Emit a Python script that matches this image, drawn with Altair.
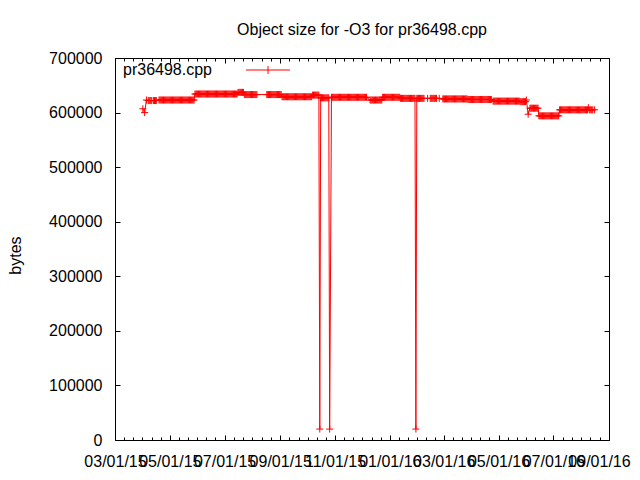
import json
import altair as alt
import pandas as pd

TITLE = "Object size for -O3 for pr36498.cpp"
SERIES = "pr36498.cpp"
Y_TITLE = "bytes"
FONT = "Liberation Sans"
RED = "#ff0000"

# Runs of (near) constant object size
RUN_START = ["2015-04-01", "2015-04-03", "2015-04-05", "2015-04-07", "2015-04-13",
             "2015-04-19", "2015-05-29", "2015-07-16", "2015-07-23", "2015-08-17",
             "2015-09-03", "2015-10-07", "2015-10-15", "2015-10-16", "2015-10-26",
             "2015-10-28", "2015-12-10", "2015-12-24", "2016-01-13", "2016-01-30",
             "2016-01-31", "2016-02-12", "2016-02-15", "2016-02-25", "2016-02-29",
             "2016-03-28", "2016-04-25", "2016-05-25", "2016-06-01", "2016-06-03",
             "2016-06-05", "2016-06-15", "2016-07-08", "2016-08-09", "2016-08-10",
             "2016-08-16"]
RUN_END = ["2015-04-01", "2015-04-03", "2015-04-05", "2015-04-11", "2015-04-16",
           "2015-05-28", "2015-07-15", "2015-07-22", "2015-08-06", "2015-09-02",
           "2015-10-06", "2015-10-14", "2015-10-15", "2015-10-25", "2015-10-26",
           "2015-12-06", "2015-12-23", "2016-01-12", "2016-01-29", "2016-01-30",
           "2016-02-08", "2016-02-12", "2016-02-22", "2016-02-25", "2016-03-27",
           "2016-04-23", "2016-05-24", "2016-05-31", "2016-06-01", "2016-06-03",
           "2016-06-14", "2016-07-07", "2016-08-08", "2016-08-09", "2016-08-14",
           "2016-08-16"]
RUN_VALUE = [607000, 600000, 623000, 622000, 622000,
             623000, 634000, 637000, 633000, 633000,
             629000, 632000, 20000, 627000, 20000,
             628000, 623000, 628000, 626000, 20000,
             626000, 626000, 626000, 626000, 625000,
             624000, 621000, 620000, 623000, 597000,
             608000, 594000, 605000, 609000, 605000,
             605000]

X_TICK_DATES = ["2015-03-01", "2015-05-01", "2015-07-01", "2015-09-01", "2015-11-01",
                "2016-01-01", "2016-03-01", "2016-05-01", "2016-07-01", "2016-09-01"]
X_TICK_LABELS = ["03/01/15", "05/01/15", "07/01/15", "09/01/15", "11/01/15",
                 "01/01/16", "03/01/16", "05/01/16", "07/01/16", "09/01/16"]
Y_TICKS = [0, 100000, 200000, 300000, 400000, 500000, 600000, 700000]

origin = pd.Timestamp(X_TICK_DATES[0])
rows = []
for s, e, v in zip(RUN_START, RUN_END, RUN_VALUE):
    for d in pd.date_range(s, e, freq="D"):
        rows.append({"day": (d - origin).days, "bytes": v, "series": SERIES})
df = pd.DataFrame(rows)

major = [(pd.Timestamp(t) - origin).days for t in X_TICK_DATES]
minor = []
for a, b in zip(major[:-1], major[1:]):
    for k in range(1, 6):
        minor.append(a + (b - a) * k / 6)

label_expr = f"{json.dumps(X_TICK_LABELS)}[indexof({json.dumps(major)}, datum.value)]"

xs = alt.Scale(domain=[major[0], major[-1]], nice=False, zero=False)
ys = alt.Scale(domain=[Y_TICKS[0], Y_TICKS[-1]], nice=False, zero=False)

common = dict(domain=False, grid=False, tickColor="black", tickWidth=1,
              labelFont=FONT, labelFontSize=16, labelColor="black")

ax_bottom = alt.Axis(orient="bottom", values=major, labelExpr=label_expr, tickSize=5,
                     offset=-5, labelPadding=13, labelOverlap=False, labelFlush=False,
                     labelBound=False, title=None,
                     labelOffset={"condition": {"test": f"datum.value >= {major[-1]}",
                                                "value": -10},
                                  "value": 0},
                     **common)
ax_left = alt.Axis(orient="left", values=Y_TICKS, format="d", tickSize=5, offset=-5,
                   labelPadding=13, labelOverlap=False, labelFlush=False,
                   title=Y_TITLE, titleFont=FONT, titleFontSize=16, titleFontWeight="normal",
                   titleColor="black", titleX=-105, titleY=197, titleBaseline="middle",
                   titleAngle=270, **common)
ax_top = alt.Axis(orient="top", values=major, labels=False, tickSize=5, offset=-5,
                  title=None, **common)
ax_right = alt.Axis(orient="right", values=Y_TICKS, labels=False, tickSize=5, offset=-5,
                    title=None, **common)
ax_bottom_minor = alt.Axis(orient="bottom", values=minor, labels=False, tickSize=3,
                           offset=-3, title=None, **common)
ax_top_minor = alt.Axis(orient="top", values=minor, labels=False, tickSize=3,
                        offset=-3, title=None, **common)

CROSS = "M-1,0L1,0M0,-1L0,1"
KEY = "M-5,0L5,0M0,-0.9L0,0.9"

base = alt.Chart(df)

line = base.mark_line(color=RED, strokeWidth=1).encode(
    x=alt.X("day:Q", scale=xs, axis=ax_bottom),
    y=alt.Y("bytes:Q", scale=ys, axis=ax_left),
)

points = base.mark_point(shape=CROSS, size=49, filled=False, strokeWidth=1, opacity=1).encode(
    x=alt.X("day:Q", scale=xs, axis=ax_top),
    y=alt.Y("bytes:Q", scale=ys, axis=ax_right),
    color=alt.Color(
        "series:N",
        scale=alt.Scale(domain=[SERIES], range=[RED]),
        legend=alt.Legend(
            orient="none", legendX=8, legendY=7, title=SERIES, titleOrient="left",
            titleFont=FONT, titleFontSize=16, titleFontWeight="normal", titleColor="black",
            titlePadding=51, titleBaseline="middle", titleAnchor="middle",
            labelExpr="''", symbolType=KEY,
            symbolSize=77, symbolStrokeWidth=1, padding=0, labelOffset=0,
        ),
    ),
)

minor_b = base.mark_point(opacity=0).encode(
    x=alt.X("day:Q", scale=xs, axis=ax_bottom_minor),
    y=alt.Y("bytes:Q", scale=ys, axis=None),
)
minor_t = base.mark_point(opacity=0).encode(
    x=alt.X("day:Q", scale=xs, axis=ax_top_minor),
    y=alt.Y("bytes:Q", scale=ys, axis=None),
)

chart = (
    alt.layer(line, points, minor_b, minor_t)
    .resolve_axis(x="independent", y="independent")
    .properties(
        width=494,
        height=382,
        autosize=alt.AutoSizeParams(type="none"),
        padding={"left": 107, "top": 50, "right": 23, "bottom": 32},
        title=alt.TitleParams(TITLE, font=FONT, fontSize=16, fontWeight="normal",
                              color="black", anchor="middle", offset=12),
        background="white",
    )
    .configure_view(stroke="black", strokeWidth=1)
)

chart.save("out.html", embed_options={"renderer": "svg", "actions": False})
